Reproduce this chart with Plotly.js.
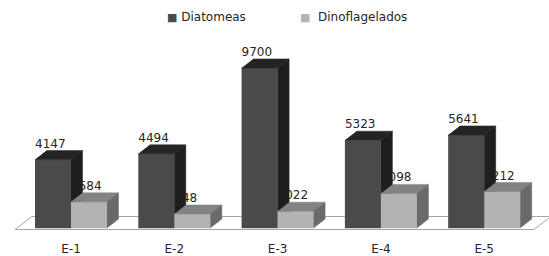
<!DOCTYPE html>
<html>
<head>
<meta charset="utf-8">
<script src="https://cdn.plot.ly/plotly-3.0.1.min.js"></script>
<style>html,body{margin:0;padding:0;background:#fff;}#chart{width:549px;height:256px;}</style>
</head>
<body>
<div id="chart"></div>
<script>
const categories = ['E-1', 'E-2', 'E-3', 'E-4', 'E-5'];
const diatomeas = [4147, 4494, 9700, 5323, 5641];
const dinoflagelados = [1584, 848, 1022, 2098, 2212];
const seriesNames = ['Diatomeas', 'Dinoflagelados'];

// pixel <-> data helpers (layout geometry)
const W = 549, H = 256, MB = 24;
const PX_PER_CAT = 103.3, CAT0_PX = 71;
const VAL_PER_PX = 60.6, BASE_PX = 228;
const px2x = p => (p - CAT0_PX) / PX_PER_CAT;
const py2y = p => (BASE_PX - p) * VAL_PER_PX;

const barW = 36 / PX_PER_CAT;
const dX = 11.5 / PX_PER_CAT;
const dY = 9 * VAL_PER_PX;

const FONT = 'DejaVu Sans, Liberation Sans, sans-serif';

function faces(values, side) {
  const front = {x: [], y: []}, top = {x: [], y: []}, right = {x: [], y: []};
  values.forEach((v, i) => {
    const xl = side < 0 ? i - barW : i;
    const xr = xl + barW;
    front.x.push(xl, xr, xr, xl, null); front.y.push(0, 0, v, v, null);
    top.x.push(xl, xr, xr + dX, xl + dX, null); top.y.push(v, v, v + dY, v + dY, null);
    right.x.push(xr, xr + dX, xr + dX, xr, null); right.y.push(0, dY, v + dY, v, null);
  });
  return {front, top, right};
}

function poly(pts, color, name) {
  return {type: 'scatter', mode: 'lines', x: pts.x, y: pts.y, fill: 'toself',
    fillcolor: color, line: {color: color, width: 0.5}, hoverinfo: 'skip',
    showlegend: false, name: name};
}

const dia = faces(diatomeas, -1);
const dino = faces(dinoflagelados, 1);

const floorX = [px2x(15), px2x(534), px2x(551), px2x(32), px2x(15)];
const floorY = [py2y(229.5), py2y(229.5), py2y(216.5), py2y(216.5), py2y(229.5)];

const labelX = [], labelY = [], labelT = [];
diatomeas.forEach((v, i) => { labelX.push(i - barW); labelY.push(v + dY); labelT.push(String(v)); });
dinoflagelados.forEach((v, i) => { labelX.push(i); labelY.push(v + dY); labelT.push(String(v)); });

const traces = [
  {type: 'scatter', mode: 'lines', x: floorX, y: floorY, fill: 'toself', fillcolor: '#ffffff',
   line: {color: '#a6a6a6', width: 1}, hoverinfo: 'skip', showlegend: false},
  {type: 'scatter', mode: 'text', x: labelX, y: labelY, text: labelT, textposition: 'top right',
   textfont: {family: FONT, size: 12, color: '#262626'}, cliponaxis: false,
   hoverinfo: 'skip', showlegend: false},
  poly(dia.front, '#4a4a4a', seriesNames[0]),
  poly(dia.top, '#242424', seriesNames[0]),
  poly(dia.right, '#1e1e1e', seriesNames[0]),
  poly(dino.front, '#b3b3b3', seriesNames[1]),
  poly(dino.top, '#838383', seriesNames[1]),
  poly(dino.right, '#6a6a6a', seriesNames[1])
];

const layout = {
  width: W, height: H,
  margin: {l: 0, r: 0, t: 0, b: MB},
  paper_bgcolor: '#ffffff', plot_bgcolor: '#ffffff',
  showlegend: false,
  xaxis: {range: [px2x(0), px2x(W)], showgrid: false, zeroline: false, showline: false,
    tickvals: categories.map((c, i) => i), ticktext: categories, ticks: 'outside',
    ticklen: 6, tickcolor: 'rgba(0,0,0,0)', tickfont: {family: FONT, size: 12, color: '#262626'}},
  yaxis: {range: [py2y(H - MB), py2y(0)], showgrid: false, zeroline: false, showline: false,
    showticklabels: false, ticks: ''},
  annotations: [
    {xref: 'paper', yref: 'paper', x: 165 / W, y: 1 - 19 / H, xanchor: 'left', yanchor: 'middle',
     showarrow: false, font: {family: FONT, size: 12, color: '#262626'},
     text: '<span style="color:#4a4a4a;font-size:11px">■</span> ' + seriesNames[0]},
    {xref: 'paper', yref: 'paper', x: 298 / W, y: 1 - 19 / H, xanchor: 'left', yanchor: 'middle',
     showarrow: false, font: {family: FONT, size: 12, color: '#262626'},
     text: '<span style="color:#b3b3b3;font-size:11px">■</span>  ' + seriesNames[1]}
  ]
};

Plotly.newPlot('chart', traces, layout, {staticPlot: true, displayModeBar: false});
</script>
</body>
</html>
